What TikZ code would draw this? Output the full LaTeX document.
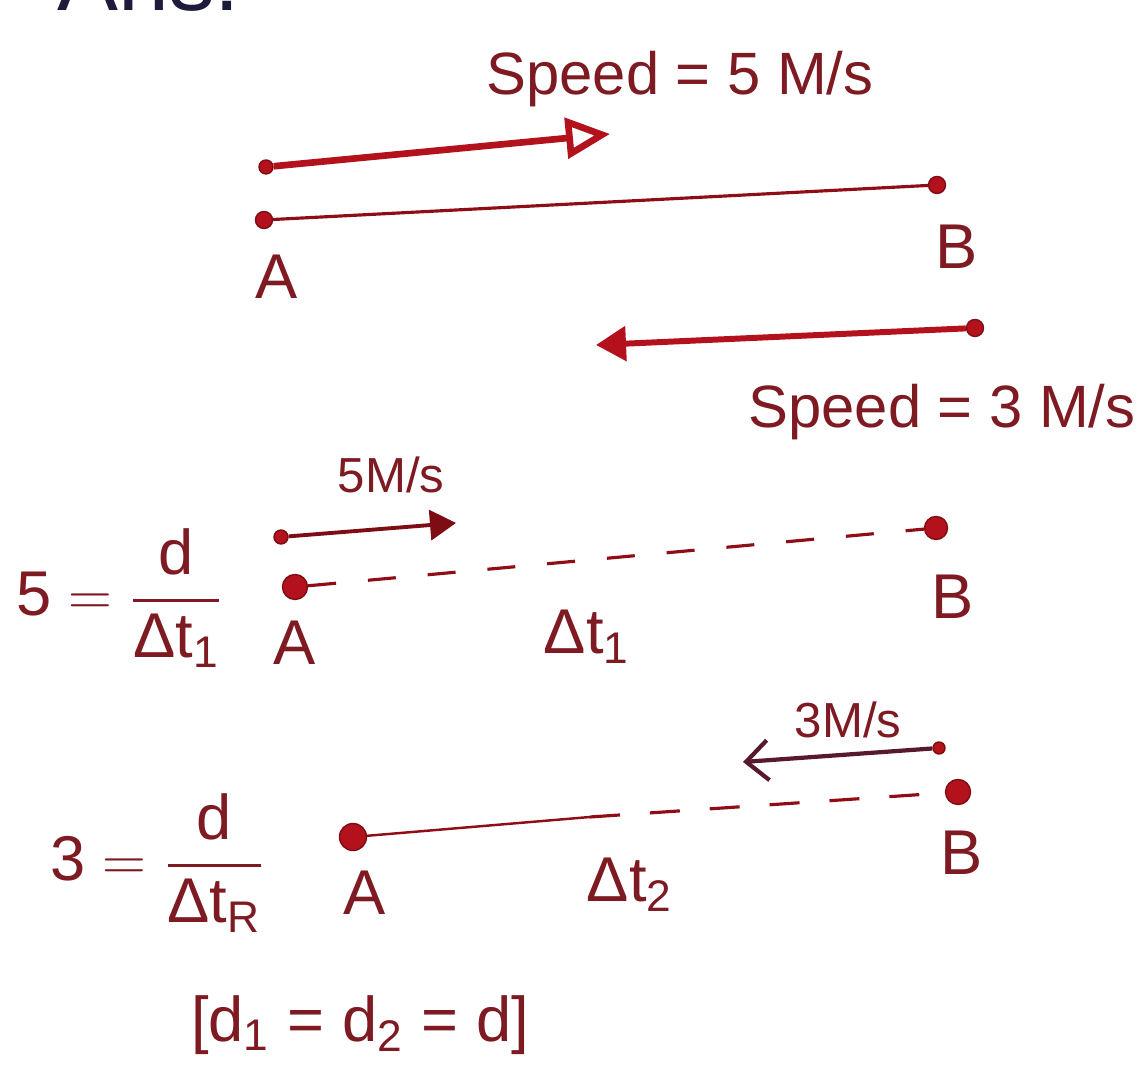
\documentclass[tikz,border=0pt]{standalone}
\usepackage{tikz}
\usepackage{xcolor}
\usepackage{amsmath}
\usepackage{fontspec}
\setmainfont{Liberation Sans}
\usetikzlibrary{arrows.meta}
\definecolor{ink}{HTML}{B3121C}
\definecolor{inktx}{HTML}{7E1A22}
\definecolor{pen}{HTML}{1C1C3A}

\begin{document}
\begin{tikzpicture}[
    dot/.style={circle,fill=ink,draw=ink!70!black,inner sep=0pt,minimum size=1.7mm},
    lbl/.style={text=inktx,font=\fontsize{18}{20}\selectfont},
    big/.style={text=inktx,font=\fontsize{17}{20}\selectfont,anchor=base},
    small/.style={text=inktx,font=\fontsize{14}{16}\selectfont},
    track/.style={ink!80!black,line width=0.9pt},
    mover/.style={ink,line width=1.9pt}]

  \useasboundingbox (0,0) rectangle (11.47,10.69);

  % Heading cut off by the top edge of the page.
  \node[pen,anchor=base west,font=\fontsize{26}{28}\selectfont] (ans) at (0.45,10.58) {Ans:};

  % Both start at once and meet somewhere on AB.
  \node[big] (sp5) at (6.80,9.74) {Speed = 5 M/s};
  \node[dot,minimum size=1.4mm] (s1) at (2.66,9.02) {};
  \coordinate (t1) at (6.10,9.35);
  \draw[mover,-{Triangle[open,length=4.4mm,width=4mm]}] (s1) -- (t1);

  \node[dot] (a1) at (2.64,8.49) {};
  \node[dot] (b1) at (9.37,8.84) {};
  \draw[track] (a1) -- (b1);
  \node[lbl] (la1) at (2.77,7.92) {A};
  \node[lbl] (lb1) at (9.57,8.22) {B};

  \node[dot] (s2) at (9.75,7.41) {};
  \coordinate (t2) at (5.96,7.24);
  \draw[mover,line width=1.7pt,-{Triangle[length=3mm,width=3.4mm]}] (s2) -- (t2);
  \node[big] (sp3) at (9.42,6.41) {Speed = 3 M/s};

  % Trip from A to B alone.
  \node[small] (v5) at (3.91,5.94) {5M/s};
  \node[dot,minimum size=1.4mm] (s3) at (2.81,5.32) {};
  \coordinate (t3) at (4.56,5.46);
  \draw[ink!70!black,line width=1.1pt,-{Triangle[length=2.6mm,width=3mm]}] (s3) -- (t3);

  \node[dot,minimum size=2.5mm] (a2) at (2.95,4.82) {};
  \node[dot,minimum size=2.3mm] (b2) at (9.36,5.41) {};
  \draw[track,dash pattern=on 2.8mm off 3.2mm] (a2) -- (b2);
  \node[text=inktx] (eq1) at (1.20,4.71) {\fontsize{18}{20}\selectfont$\text{5}=\dfrac{\text{d}}{\text{Δt}_{\text{1}}}$};
  \node[lbl] (la2) at (2.95,4.26) {A};
  \node[lbl] (dt1) at (5.87,4.32) {Δt\textsubscript{1}};
  \node[lbl] (lb2) at (9.53,4.72) {B};

  % Trip from B back to A alone.
  \node[small] (v3) at (8.48,3.49) {3M/s};
  \node[dot,minimum size=1.2mm] (s4) at (9.39,3.21) {};
  \coordinate (t4) at (7.43,3.07);
  \draw[pen!60!ink,line width=1.2pt,-{Straight Barb[length=2.2mm,width=4mm]}] (s4) -- (t4);

  \node[dot,minimum size=2.7mm] (a3) at (3.53,2.32) {};
  \node[dot,minimum size=2.5mm] (b3) at (9.58,2.77) {};
  \coordinate (m3) at (5.90,2.52);
  \draw[track,line width=0.7pt] (a3) -- (m3);
  \draw[track,dash pattern=on 3mm off 3mm] (m3) -- (b3);
  \node[text=inktx] (eq2) at (1.58,2.06) {\fontsize{18}{20}\selectfont$\text{3}=\dfrac{\text{d}}{\text{Δt}_{\text{R}}}$};
  \node[lbl] (la3) at (3.65,1.76) {A};
  \node[lbl] (dt2) at (6.30,1.84) {Δt\textsubscript{2}};
  \node[lbl] (lb3) at (9.62,2.16) {B};

  \node[lbl] (same) at (3.60,0.44) {[d\textsubscript{1} = d\textsubscript{2} = d]};
\end{tikzpicture}
\end{document}
